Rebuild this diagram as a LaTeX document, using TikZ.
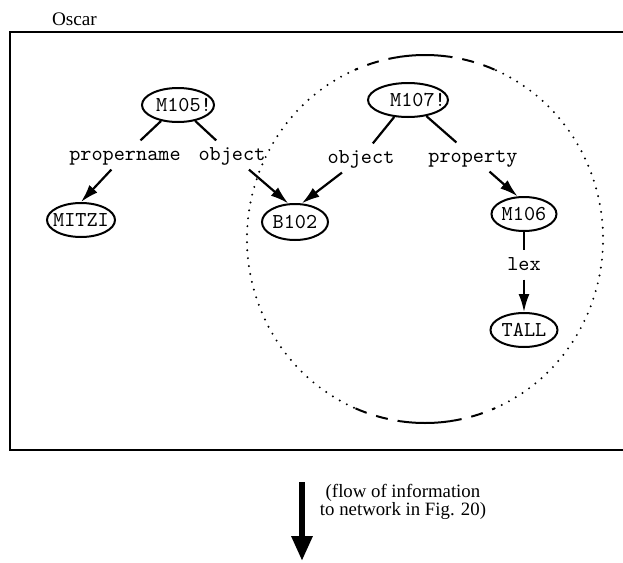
\documentclass[tikz,border=0pt]{standalone}
\usepackage{fontspec}
\setmainfont{Liberation Serif}
\usetikzlibrary{shapes.geometric,arrows.meta}

\begin{document}
\begin{tikzpicture}[x=0.5pt,y=-0.5pt,
	term/.style={draw,ellipse,line width=1pt,inner xsep=-5pt,inner ysep=1pt,minimum height=17pt,font=\fontsize{10.6}{12}\ttfamily},
	arc label/.style={inner sep=2.5pt,text height=1.6ex,text depth=.4ex,font=\fontsize{10.6}{12}\ttfamily},
	link/.style={line width=1.1pt},
	arrowlink/.style={line width=1.1pt,-{Latex[length=9pt,width=5.5pt]}},
	ringdots/.style={line width=1.1pt,line cap=round,dash pattern=on 0pt off 4pt},
	ringdash/.style={line width=1pt,dash pattern=on 6pt off 5pt},
	ringline/.style={line width=1pt},
	]

			\useasboundingbox (0,0) rectangle (623,563);

			\def \cx {425};
			\def \cy {239};

			\node[anchor=base west,font=\fontsize{9.6}{11}\selectfont] (title) at (45,25) {Oscar};
			\draw[line width=1.1pt] (623,32) -- (10,32) -- (10,450) -- (623,450);

			\foreach \a/\b/\kind in {-67/67/ringdots,67/82/ringdash,82/98/ringline,98/113/ringdash,113/247/ringdots,247/262/ringdash,262/278/ringline,278/293/ringdash} {
			    \draw[\kind] (\cx,\cy) ++(\a:89pt and 92pt) arc[start angle=\a,end angle=\b,x radius=89pt,y radius=92pt];
			}

			\node[term,minimum width=36pt] (M105) at (178,105) {\hspace*{6pt}M105!};
			\node[term,minimum width=40pt] (M107) at (408,100) {\hspace*{10pt}M107!};
			\node[term,minimum width=34pt] (MITZI) at (81,220) {MITZI};
			\node[term,minimum width=33pt,minimum height=18pt] (B102) at (295,222) {B102};
			\node[term,minimum width=32.5pt] (M106) at (524,214) {M106};
			\node[term,minimum width=33.5pt] (TALL) at (524,330) {TALL};

			\node[arc label] (pname) at (125,155) {propername};
			\node[arc label] (obj1) at (232,155) {object};
			\node[arc label] (obj2) at (361,158) {object};
			\node[arc label] (prop) at (473,157) {property};
			\node[arc label] (lex) at (524,265) {lex};

			\draw[link] (M105) -- (pname);
			\draw[arrowlink] (pname) -- (MITZI.north);
			\draw[link] (M105) -- (obj1);
			\draw[arrowlink] (obj1) -- (B102.110);
			\draw[link] (M107) -- (obj2);
			\draw[arrowlink] (obj2) -- (B102.70);
			\draw[link] (M107) -- (prop);
			\draw[arrowlink] (prop) -- (M106.110);
			\draw[link] (M106) -- (lex);
			\draw[arrowlink] (lex) -- (TALL);

			\coordinate (flowtop) at (302,482);
			\coordinate (flowend) at (302,561);
			\draw[line width=3pt,-{Triangle[length=12.5pt,width=10pt]}] (flowtop) -- (flowend);
			\node[align=center,font=\fontsize{9.4}{9}\selectfont] (flow) at (403,502) {(flow of information\\to network in Fig. 20)};
\end{tikzpicture}
\end{document}
